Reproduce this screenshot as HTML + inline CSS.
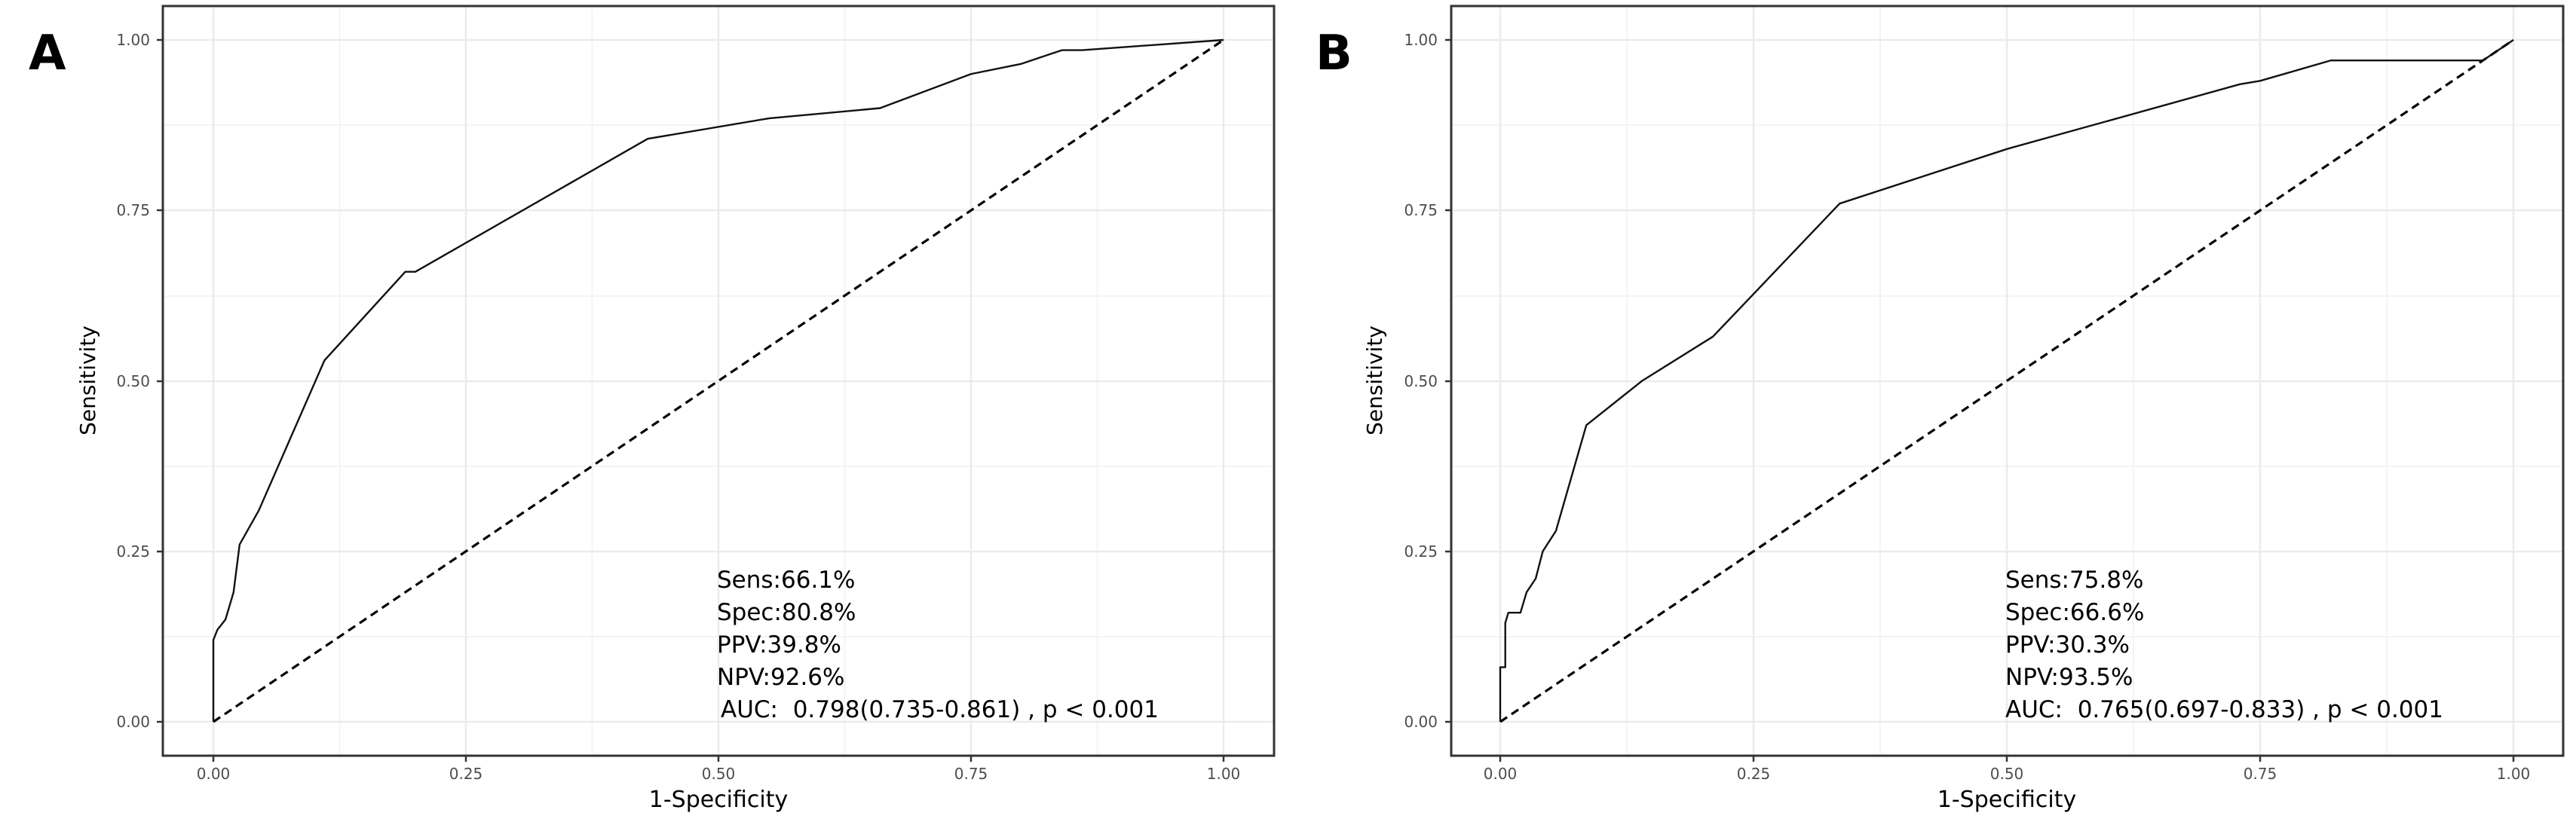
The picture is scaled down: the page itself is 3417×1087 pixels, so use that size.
<!DOCTYPE html>
<html><head><meta charset="utf-8"><style>
html,body{margin:0;padding:0;background:#fff;}
svg{display:block;}
text{font-family:"DejaVu Sans","Liberation Sans",sans-serif;}
</style></head><body>
<svg width="3417" height="1087" viewBox="0 0 3417 1087" xmlns="http://www.w3.org/2000/svg">

<!-- Panel A -->
<text x="38" y="92" font-size="64" font-weight="bold" font-family="Liberation Sans, sans-serif">A</text>
<g>
  <g stroke="#f4f4f4" stroke-width="2">
    <line x1="216" x2="1690" y1="845" y2="845"/><line x1="216" x2="1690" y1="619" y2="619"/>
    <line x1="216" x2="1690" y1="393" y2="393"/><line x1="216" x2="1690" y1="166" y2="166"/>
    <line y1="8" y2="1003" x1="450.5" x2="450.5"/><line y1="8" y2="1003" x1="785.5" x2="785.5"/>
    <line y1="8" y2="1003" x1="1120.5" x2="1120.5"/><line y1="8" y2="1003" x1="1455.5" x2="1455.5"/>
  </g>
  <g stroke="#ebebeb" stroke-width="2.5">
    <line x1="216" x2="1690" y1="958" y2="958"/><line x1="216" x2="1690" y1="732" y2="732"/>
    <line x1="216" x2="1690" y1="506" y2="506"/><line x1="216" x2="1690" y1="279" y2="279"/>
    <line x1="216" x2="1690" y1="53" y2="53"/>
    <line y1="8" y2="1003" x1="283" x2="283"/><line y1="8" y2="1003" x1="618" x2="618"/>
    <line y1="8" y2="1003" x1="953" x2="953"/><line y1="8" y2="1003" x1="1288" x2="1288"/>
    <line y1="8" y2="1003" x1="1623" x2="1623"/>
  </g>
  <g transform="translate(283,958) scale(1340,-905)" fill="none">
    <polyline vector-effect="non-scaling-stroke" stroke="#000" stroke-width="3.2" stroke-dasharray="11,7" points="0,0 1,1"/>
    <polyline vector-effect="non-scaling-stroke" stroke="#111" stroke-width="2.4" stroke-linejoin="round" points="0,0 0,0.12 0.004,0.135 0.012,0.15 0.02,0.19 0.026,0.26 0.045,0.31 0.11,0.53 0.19,0.66 0.2,0.66 0.43,0.855 0.55,0.885 0.66,0.9 0.75,0.95 0.8,0.965 0.84,0.985 0.86,0.985 1,1"/>
  </g>
  <rect x="216" y="8" width="1474" height="995" fill="none" stroke="#333" stroke-width="3"/>
  <g stroke="#333" stroke-width="2.5">
    <line x1="208" x2="216" y1="958" y2="958"/><line x1="208" x2="216" y1="732" y2="732"/>
    <line x1="208" x2="216" y1="506" y2="506"/><line x1="208" x2="216" y1="279" y2="279"/>
    <line x1="208" x2="216" y1="53" y2="53"/>
    <line y1="1003" y2="1011" x1="283" x2="283"/><line y1="1003" y2="1011" x1="618" x2="618"/>
    <line y1="1003" y2="1011" x1="953" x2="953"/><line y1="1003" y2="1011" x1="1288" x2="1288"/>
    <line y1="1003" y2="1011" x1="1623" x2="1623"/>
  </g>
  <g font-size="20" fill="#4d4d4d" text-anchor="end">
    <text x="199" y="965">0.00</text><text x="199" y="739">0.25</text>
    <text x="199" y="513">0.50</text><text x="199" y="286">0.75</text><text x="199" y="60">1.00</text>
  </g>
  <g font-size="20" fill="#4d4d4d" text-anchor="middle">
    <text x="283" y="1034">0.00</text><text x="618" y="1034">0.25</text><text x="953" y="1034">0.50</text>
    <text x="1288" y="1034">0.75</text><text x="1623" y="1034">1.00</text>
  </g>
  <text x="953" y="1071" font-size="30" text-anchor="middle">1-Specificity</text>
  <text transform="translate(126,505) rotate(-90)" font-size="28" text-anchor="middle">Sensitivity</text>
  <g font-size="31" fill="#000">
    <text x="951" y="780">Sens:66.1%</text>
    <text x="951" y="823">Spec:80.8%</text>
    <text x="951" y="866">PPV:39.8%</text>
    <text x="951" y="909">NPV:92.6%</text>
    <text x="956" y="952" xml:space="preserve">AUC:  0.798(0.735-0.861) , p &lt; 0.001</text>
  </g>
</g>

<!-- Panel B -->
<text x="1745" y="92" font-size="64" font-weight="bold" font-family="Liberation Sans, sans-serif">B</text>
<g>
  <g stroke="#f4f4f4" stroke-width="2">
    <line x1="1925" x2="3400" y1="845" y2="845"/><line x1="1925" x2="3400" y1="619" y2="619"/>
    <line x1="1925" x2="3400" y1="393" y2="393"/><line x1="1925" x2="3400" y1="166" y2="166"/>
    <line y1="8" y2="1003" x1="2158" x2="2158"/><line y1="8" y2="1003" x1="2494" x2="2494"/>
    <line y1="8" y2="1003" x1="2830" x2="2830"/><line y1="8" y2="1003" x1="3166" x2="3166"/>
  </g>
  <g stroke="#ebebeb" stroke-width="2.5">
    <line x1="1925" x2="3400" y1="958" y2="958"/><line x1="1925" x2="3400" y1="732" y2="732"/>
    <line x1="1925" x2="3400" y1="506" y2="506"/><line x1="1925" x2="3400" y1="279" y2="279"/>
    <line x1="1925" x2="3400" y1="53" y2="53"/>
    <line y1="8" y2="1003" x1="1990" x2="1990"/><line y1="8" y2="1003" x1="2326" x2="2326"/>
    <line y1="8" y2="1003" x1="2662" x2="2662"/><line y1="8" y2="1003" x1="2998" x2="2998"/>
    <line y1="8" y2="1003" x1="3334" x2="3334"/>
  </g>
  <g transform="translate(1990,958) scale(1344,-905)" fill="none">
    <polyline vector-effect="non-scaling-stroke" stroke="#000" stroke-width="3.2" stroke-dasharray="11,7" points="0,0 1,1"/>
    <polyline vector-effect="non-scaling-stroke" stroke="#111" stroke-width="2.4" stroke-linejoin="round" points="0,0 0,0.08 0.005,0.08 0.005,0.145 0.008,0.16 0.02,0.16 0.026,0.19 0.035,0.21 0.042,0.25 0.055,0.28 0.085,0.435 0.14,0.5 0.21,0.565 0.335,0.76 0.5,0.84 0.73,0.935 0.75,0.94 0.82,0.97 0.97,0.97 1,1"/>
  </g>
  <rect x="1925" y="8" width="1475" height="995" fill="none" stroke="#333" stroke-width="3"/>
  <g stroke="#333" stroke-width="2.5">
    <line x1="1917" x2="1925" y1="958" y2="958"/><line x1="1917" x2="1925" y1="732" y2="732"/>
    <line x1="1917" x2="1925" y1="506" y2="506"/><line x1="1917" x2="1925" y1="279" y2="279"/>
    <line x1="1917" x2="1925" y1="53" y2="53"/>
    <line y1="1003" y2="1011" x1="1990" x2="1990"/><line y1="1003" y2="1011" x1="2326" x2="2326"/>
    <line y1="1003" y2="1011" x1="2662" x2="2662"/><line y1="1003" y2="1011" x1="2998" x2="2998"/>
    <line y1="1003" y2="1011" x1="3334" x2="3334"/>
  </g>
  <g font-size="20" fill="#4d4d4d" text-anchor="end">
    <text x="1907" y="965">0.00</text><text x="1907" y="739">0.25</text>
    <text x="1907" y="513">0.50</text><text x="1907" y="286">0.75</text><text x="1907" y="60">1.00</text>
  </g>
  <g font-size="20" fill="#4d4d4d" text-anchor="middle">
    <text x="1990" y="1034">0.00</text><text x="2326" y="1034">0.25</text><text x="2662" y="1034">0.50</text>
    <text x="2998" y="1034">0.75</text><text x="3334" y="1034">1.00</text>
  </g>
  <text x="2662" y="1071" font-size="30" text-anchor="middle">1-Specificity</text>
  <text transform="translate(1833,505) rotate(-90)" font-size="28" text-anchor="middle">Sensitivity</text>
  <g font-size="31" fill="#000">
    <text x="2660" y="780">Sens:75.8%</text>
    <text x="2660" y="823">Spec:66.6%</text>
    <text x="2660" y="866">PPV:30.3%</text>
    <text x="2660" y="909">NPV:93.5%</text>
    <text x="2660" y="952" xml:space="preserve">AUC:  0.765(0.697-0.833) , p &lt; 0.001</text>
  </g>
</g>
</svg>
</body></html>
